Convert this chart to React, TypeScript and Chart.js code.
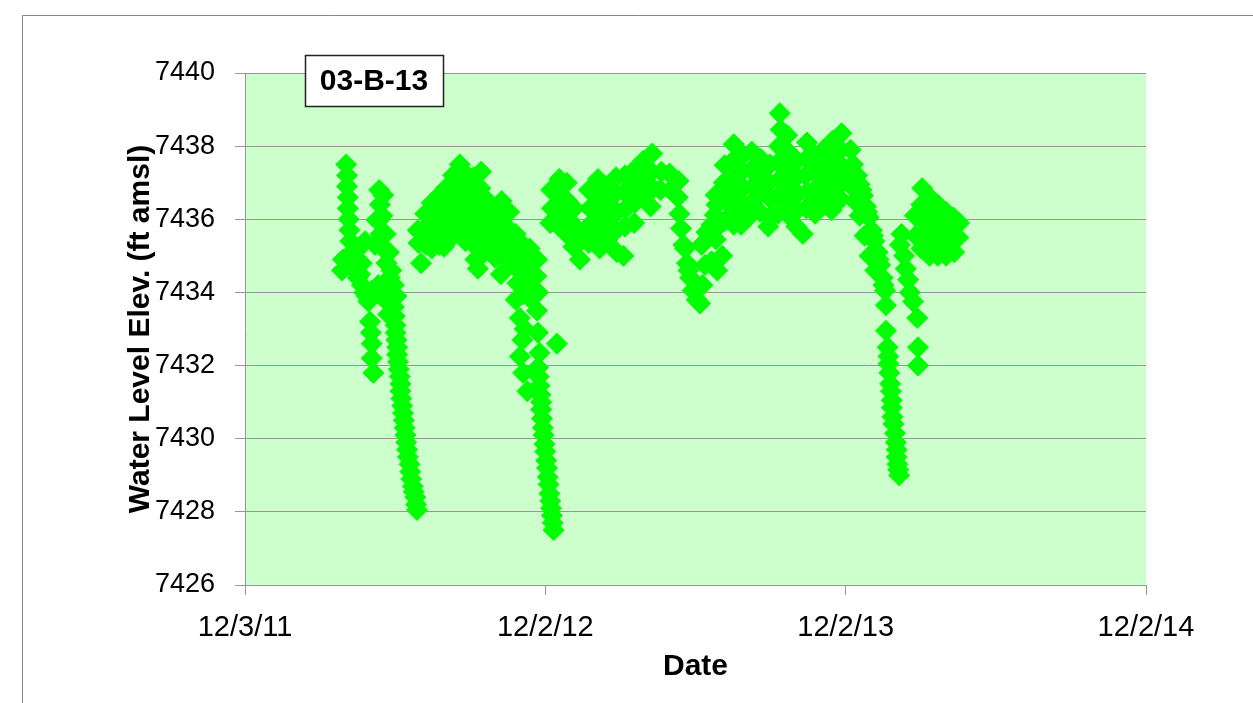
import { useEffect, useRef } from "react";
import { Chart, registerables } from "chart.js";

Chart.register(...registerables);

// x = days since 12/3/11, y = water level elevation (ft amsl)
const xTickDays = [0, 365, 730, 1095];
const xTickLabels = ["12/3/11", "12/2/12", "12/2/13", "12/2/14"];
const yTicks = [7426, 7428, 7430, 7432, 7434, 7436, 7438, 7440];

const seg2012TrackA: [number, number][] = [
  [123, 7437.5], [124, 7437.2], [124, 7436.9], [125, 7436.6], [125, 7436.3], [126, 7436.0],
  [127, 7435.7], [128, 7435.4], [130, 7435.1], [119, 7434.9], [118, 7434.6], [131, 7434.8],
  [134, 7434.6], [137, 7434.4], [140, 7434.5], [142, 7434.2], [145, 7434.0], [148, 7433.9],
  [151, 7433.8], [152, 7433.2], [153, 7432.9], [154, 7432.6], [154, 7432.2], [156, 7431.8],
  [136, 7435.15], [142, 7434.8], [146, 7435.4], [158, 7435.3], [162, 7434.2], [154, 7434.05],
  [170, 7433.8], [174, 7433.4], [150, 7433.75], [160, 7435.98], [168, 7436.66],
];

const seg2012TrackB: [number, number][] = [
  [163, 7436.8], [164, 7436.4], [164, 7436.0], [165, 7435.6], [168, 7435.2], [172, 7434.8],
  [176, 7434.4], [179, 7434.0], [181, 7433.6], [183, 7433.1], [184, 7432.7], [185, 7432.3],
  [187, 7431.9], [189, 7431.5], [190, 7431.1], [192, 7430.7], [194, 7430.3], [196, 7429.9],
  [198, 7429.5], [201, 7429.1], [204, 7428.7], [207, 7428.4], [209, 7428.05],
  [167, 7436.1], [171, 7435.6], [175, 7435.1], [178, 7434.6], [181, 7434.2], [184, 7433.9],
  [182, 7433.35], [183, 7432.9], [185, 7432.5], [186, 7432.1], [188, 7431.7], [189, 7431.3],
  [191, 7430.9], [193, 7430.5], [195, 7430.1], [197, 7429.7], [200, 7429.3], [202, 7428.9],
  [205, 7428.55], [208, 7428.2],
];

const seg2012Recovery: [number, number][] = [
  [214, 7434.8],
  [210, 7435.7], [211, 7435.35],
  [219, 7436.15], [218, 7435.75], [220, 7435.3],
  [227, 7436.45], [226, 7436.0], [228, 7435.55], [227, 7435.2],
  [236, 7436.65], [235, 7436.2], [237, 7435.75], [236, 7435.3],
  [244, 7436.85], [243, 7436.4], [245, 7435.95], [244, 7435.5], [242, 7435.25],
  [253, 7437.2], [252, 7436.75], [254, 7436.3], [253, 7435.85], [251, 7435.5],
  [261, 7437.5], [260, 7437.05], [262, 7436.6], [261, 7436.15], [263, 7435.7],
  [270, 7437.2], [269, 7436.75], [271, 7436.3], [270, 7435.85], [268, 7435.4],
  [278, 7437.15], [277, 7436.7], [279, 7436.25], [278, 7435.8], [276, 7435.35], [280, 7434.9],
  [287, 7437.3], [286, 7436.85], [288, 7436.4], [287, 7435.95], [285, 7435.5], [289, 7435.05], [283, 7434.65],
  [295, 7436.5], [294, 7436.05], [296, 7435.6], [295, 7435.15],
  [304, 7436.3], [303, 7435.85], [305, 7435.4], [304, 7434.95],
  [312, 7436.5], [311, 7436.05], [313, 7435.6], [312, 7435.1], [311, 7434.5],
  [321, 7436.2], [320, 7435.75], [322, 7435.3], [321, 7434.85],
];

const seg2012Drawdown: [number, number][] = [
  [329, 7435.6], [330, 7435.15], [328, 7434.7], [331, 7434.25], [329, 7433.8],
  [338, 7435.3], [337, 7434.85], [339, 7434.4], [338, 7433.95],
  [346, 7435.2], [345, 7434.75], [347, 7434.3], [346, 7433.85],
  [355, 7434.9], [354, 7434.45], [356, 7434.0], [355, 7433.5],
  [334, 7433.3], [356, 7432.9], [337, 7432.7], [334, 7432.25], [338, 7431.8], [343, 7431.3],
  [358, 7432.35], [379, 7432.6], [340, 7433.0],
  [356, 7431.95], [358, 7431.45], [360, 7431.0], [361, 7430.55], [363, 7430.1], [365, 7429.65],
  [367, 7429.2], [369, 7428.75], [371, 7428.3], [373, 7427.9], [375, 7427.5],
  [357, 7431.7], [359, 7431.2], [360, 7430.8], [362, 7430.3], [364, 7429.85], [366, 7429.4],
  [368, 7428.95], [370, 7428.5], [372, 7428.1], [374, 7427.7],
];

const seg2013Early: [number, number][] = [
  [372, 7436.8], [373, 7436.3], [371, 7435.9],
  [382, 7437.1], [383, 7436.65], [384, 7436.2], [382, 7435.8],
  [391, 7437.0], [392, 7436.5], [393, 7436.0], [391, 7435.6],
  [400, 7436.3], [401, 7435.8], [399, 7435.25],
  [407, 7434.9], [408, 7435.4],
  [418, 7436.8], [419, 7436.3], [417, 7435.8], [418, 7435.35],
  [429, 7437.1], [428, 7436.6], [430, 7436.1], [429, 7435.6], [431, 7435.2],
  [440, 7436.9], [439, 7436.4], [441, 7435.9], [440, 7435.4],
  [451, 7437.15], [450, 7436.7], [452, 7436.2], [451, 7435.7], [452, 7435.1],
  [462, 7437.2], [461, 7436.75], [463, 7436.3], [462, 7435.8], [460, 7435.0],
  [473, 7437.35], [472, 7436.9], [474, 7436.45], [473, 7435.9],
  [484, 7437.6], [483, 7437.15], [485, 7436.7],
  [495, 7437.8], [494, 7437.3], [496, 7436.85], [493, 7436.35],
  [506, 7437.3], [505, 7436.8],
  [516, 7437.25], [517, 7436.8],
  [527, 7437.05], [526, 7436.6], [528, 7436.15],
  [530, 7435.75], [533, 7435.3], [535, 7435.2], [537, 7434.8], [539, 7434.6], [541, 7434.4],
  [544, 7434.05], [549, 7433.8], [553, 7433.7],
];

const seg2013Rise: [number, number][] = [
  [556, 7434.2], [559, 7434.75], [555, 7435.3], [561, 7435.65], [567, 7434.85], [574, 7434.6],
  [580, 7435.0], [572, 7435.45], [577, 7435.85], [567, 7435.85],
];

const seg2013High: [number, number][] = [
  [572, 7436.66], [573, 7436.4], [571, 7436.12],
  [583, 7437.48], [582, 7437.0], [584, 7436.5], [583, 7435.95],
  [594, 7438.05], [593, 7437.6], [595, 7437.15], [594, 7436.7], [596, 7436.25], [594, 7435.85],
  [605, 7437.75], [604, 7437.3], [606, 7436.85], [605, 7436.4], [603, 7435.85],
  [616, 7437.85], [615, 7437.35], [617, 7436.9], [616, 7436.45], [614, 7436.1],
  [627, 7437.65], [626, 7437.2], [628, 7436.75], [626, 7436.2],
  [638, 7437.5], [637, 7437.0], [639, 7436.55], [638, 7436.05], [636, 7435.8],
  [650, 7438.9], [651, 7438.45], [649, 7438.0], [648, 7437.55], [650, 7437.1], [649, 7436.65], [648, 7436.15],
  [659, 7438.3], [660, 7437.85], [661, 7437.4], [660, 7436.95], [659, 7436.5], [661, 7436.1],
  [671, 7437.6], [670, 7437.15], [672, 7436.7], [671, 7436.25], [670, 7435.8],
  [683, 7438.1], [682, 7437.65], [681, 7437.2], [683, 7436.75], [682, 7436.3], [678, 7435.6],
  [693, 7437.75], [692, 7437.3], [694, 7436.85], [692, 7436.5], [693, 7436.15],
  [703, 7437.9], [704, 7437.45], [702, 7437.0], [704, 7436.7], [703, 7436.4],
  [714, 7438.15], [713, 7437.7], [715, 7437.25], [714, 7436.8], [713, 7436.25],
  [725, 7438.35], [724, 7437.9], [726, 7437.45], [725, 7437.0], [724, 7436.55],
  [736, 7437.9], [735, 7437.4], [737, 7436.9],
];

const seg2013Drawdown: [number, number][] = [
  [739, 7437.5], [744, 7437.2], [747, 7436.95], [751, 7436.65], [755, 7436.35], [758, 7436.05],
  [762, 7435.7], [765, 7435.4], [769, 7435.1], [772, 7434.75], [775, 7434.4], [778, 7434.05],
  [779, 7433.65], [779, 7432.95], [781, 7432.5], [782, 7432.05], [784, 7431.5], [786, 7431.05],
  [787, 7430.6], [790, 7430.15], [792, 7429.7], [793, 7429.3], [795, 7429.0],
  [735, 7437.05], [741, 7436.5], [747, 7436.1], [753, 7435.55], [759, 7435.0], [766, 7434.6],
  [749, 7436.8], [756, 7436.2], [763, 7435.55], [770, 7434.9], [776, 7434.2],
  [782, 7432.25], [783, 7431.8], [785, 7431.3], [786, 7430.85], [788, 7430.4], [791, 7429.9],
  [792, 7429.5], [794, 7429.15],
];

const seg2014Early: [number, number][] = [
  [798, 7435.6], [796, 7435.3], [801, 7435.0], [803, 7434.65], [806, 7434.35], [808, 7434.0],
  [812, 7433.75], [817, 7433.3], [818, 7432.5], [818, 7432.0],
  [814, 7436.1], [815, 7435.55],
  [823, 7436.85], [822, 7436.4], [824, 7435.95], [823, 7435.5], [822, 7435.2],
  [832, 7436.6], [831, 7436.15], [833, 7435.7], [832, 7435.0], [831, 7435.3],
  [842, 7436.4], [841, 7435.95], [843, 7435.5], [842, 7435.0],
  [852, 7436.2], [851, 7435.75], [853, 7435.3], [852, 7435.0],
  [861, 7436.05], [860, 7435.6], [862, 7435.1],
  [868, 7435.9], [867, 7435.5],
];

const allSegments = [
  seg2012TrackA, seg2012TrackB, seg2012Recovery, seg2012Drawdown,
  seg2013Early, seg2013Rise, seg2013High, seg2013Drawdown, seg2014Early,
];

const FONT = "'Liberation Sans', Arial, sans-serif";

const plotBackground = {
  id: "plotBackground",
  beforeDraw(chart: any) {
    const { ctx, chartArea } = chart;
    ctx.save();
    ctx.fillStyle = "#FFFFFF";
    ctx.fillRect(0, 0, chart.width, chart.height);
    ctx.strokeStyle = "#868686";
    ctx.lineWidth = 1;
    ctx.beginPath();
    ctx.moveTo(22.5, chart.height + 5);
    ctx.lineTo(22.5, 15.5);
    ctx.lineTo(chart.width + 5, 15.5);
    ctx.stroke();
    ctx.fillStyle = "#CCFFCC";
    ctx.fillRect(chartArea.left, chartArea.top, chartArea.right - chartArea.left, chartArea.bottom - chartArea.top);
    ctx.restore();
  },
};

const wellLabel = {
  id: "wellLabel",
  afterDatasetsDraw(chart: any) {
    const { ctx, chartArea } = chart;
    const x = chartArea.left + 60;
    const y = chartArea.top - 18;
    const w = 138;
    const h = 51;
    ctx.save();
    ctx.fillStyle = "#FFFFFF";
    ctx.fillRect(x, y, w, h);
    ctx.strokeStyle = "#222222";
    ctx.lineWidth = 1.5;
    ctx.strokeRect(x + 0.5, y + 0.5, w, h);
    ctx.fillStyle = "#000000";
    ctx.font = `bold 30px ${FONT}`;
    ctx.textAlign = "center";
    ctx.textBaseline = "middle";
    ctx.fillText("03-B-13", x + w / 2, y + h / 2 + 1);
    ctx.restore();
  },
};

export default function App() {
  const canvasRef = useRef<HTMLCanvasElement | null>(null);

  useEffect(() => {
    if (!canvasRef.current) return;
    const points = allSegments.flat().map(([d, v]) => ({ x: d, y: v }));
    const chart = new Chart(canvasRef.current, {
      type: "scatter",
      data: {
        datasets: [
          {
            label: "03-B-13",
            data: points,
            pointStyle: "rectRot",
            pointRadius: 10.5,
            pointHoverRadius: 10.5,
            backgroundColor: "#00FF00",
            borderColor: "#00FF00",
            borderWidth: 1,
          },
        ],
      },
      options: {
        animation: false,
        responsive: false,
        events: [],
        layout: { padding: { left: 123, top: 73, right: 107, bottom: 18 } },
        plugins: {
          legend: { display: false },
          tooltip: { enabled: false },
        },
        scales: {
          x: {
            type: "linear",
            min: 0,
            max: 1095,
            afterFit: (s: any) => {
              s.height = 100;
            },
            afterBuildTicks: (s: any) => {
              s.ticks = xTickDays.map((v) => ({ value: v }));
            },
            ticks: {
              callback: (_v: any, i: number) => xTickLabels[i],
              font: { family: FONT, size: 29 },
              color: "#000000",
              padding: 16,
              maxRotation: 0,
              autoSkip: false,
            },
            grid: { drawOnChartArea: false, drawTicks: true, tickLength: 10, color: "#969696" },
            border: { color: "#969696" },
            title: {
              display: true,
              text: "Date",
              font: { family: FONT, size: 30, weight: "bold" },
              color: "#000000",
              padding: 0,
            },
          },
          y: {
            min: 7426,
            max: 7440,
            afterFit: (s: any) => {
              s.width = 122;
            },
            afterBuildTicks: (s: any) => {
              s.ticks = yTicks.map((v) => ({ value: v }));
            },
            ticks: {
              callback: (v: any) => String(v),
              font: { family: FONT, size: 27 },
              color: "#000000",
              padding: 20,
            },
            grid: { color: "#969696", lineWidth: 1, drawTicks: true, tickLength: 10 },
            border: { color: "#969696" },
            title: {
              display: true,
              text: "Water Level Elev. (ft amsl)",
              font: { family: FONT, size: 30, weight: "bold" },
              color: "#000000",
              padding: 0,
            },
          },
        },
      },
      plugins: [plotBackground, wellLabel],
    });
    return () => chart.destroy();
  }, []);

  return (
    <div style={{ position: "absolute", left: 0, top: 0, width: 1253, height: 703, overflow: "hidden" }}>
      <canvas ref={canvasRef} width={1253} height={703} style={{ display: "block" }} />
    </div>
  );
}
